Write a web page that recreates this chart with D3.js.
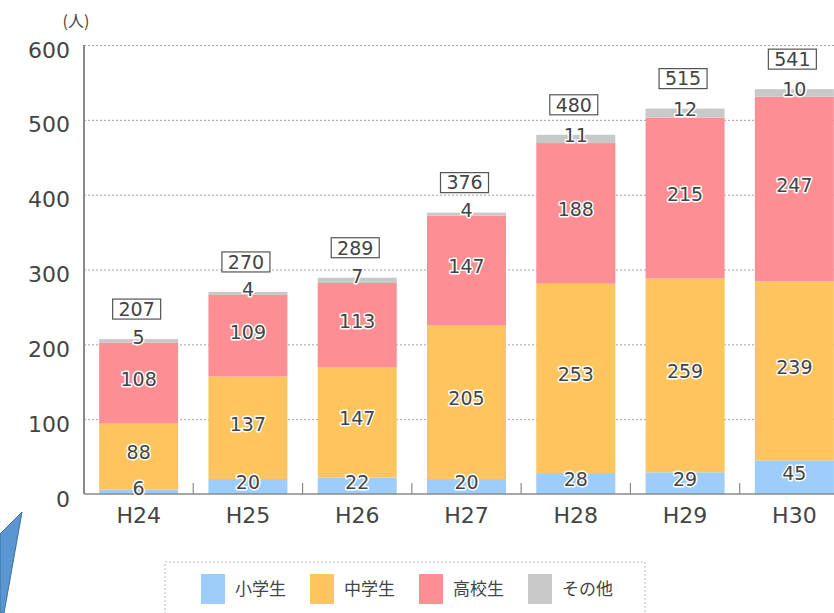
<!DOCTYPE html>
<html>
<head>
<meta charset="utf-8">
<script src="https://cdn.jsdelivr.net/npm/d3@7"></script>
<style>
  html, body { margin: 0; padding: 0; background: #fff; overflow: hidden; }
  svg { display: block; font-family: "DejaVu Sans", "Noto Sans CJK JP", sans-serif; }
</style>
</head>
<body>
<div id="chart"></div>
<script>
// 年度
const years = ["H24", "H25", "H26", "H27", "H28", "H29", "H30"];
// 区分
const groups = ["小学生", "中学生", "高校生", "その他"];
const elementary = [6, 20, 22, 20, 28, 29, 45];
const juniorHigh = [88, 137, 147, 205, 253, 259, 239];
const highSchool = [108, 109, 113, 147, 188, 215, 247];
const others = [5, 4, 7, 4, 11, 12, 10];
const totals = [207, 270, 289, 376, 480, 515, 541];
const yTicks = [0, 100, 200, 300, 400, 500, 600];
const colors = ["#9ccdfb", "#fec55e", "#fd8f94", "#c8c8c8"];

const W = 834, H = 613;
const margin = { top: 45, right: -15, bottom: 119, left: 84 };
const w = W - margin.left - margin.right, h = H - margin.top - margin.bottom;
const FONT = "'DejaVu Sans', 'Noto Sans CJK JP', sans-serif";

const rows = years.map((yr, i) => ({
  year: yr,
  "小学生": elementary[i], "中学生": juniorHigh[i], "高校生": highSchool[i], "その他": others[i],
  total: totals[i],
}));
const stacked = d3.stack().keys(groups)(rows);

const svg = d3.select("#chart").append("svg")
  .attr("width", W).attr("height", H).attr("viewBox", `0 0 ${W} ${H}`);
const g = svg.append("g").attr("transform", `translate(${margin.left},${margin.top})`);

const x = d3.scaleBand().domain(years).range([0, w]).paddingInner(0.277).paddingOuter(0.1385);
const y = d3.scaleLinear().domain([0, 600]).range([h, 0]);
const color = d3.scaleOrdinal().domain(groups).range(colors);

// gridlines (dotted)
g.append("g")
  .call(d3.axisLeft(y).tickValues(yTicks.slice(1)).tickSize(-(W - margin.left)).tickFormat(""))
  .call(s => s.select(".domain").remove())
  .selectAll("line").attr("stroke", "#a0a0a0").attr("stroke-dasharray", "2,2");

// y tick labels (sit a little below their gridline, as in the source)
g.append("g")
  .call(d3.axisLeft(y).tickValues(yTicks).tickSize(0).tickPadding(14))
  .call(s => s.select(".domain").remove())
  .selectAll("text").attr("font-size", 22).attr("fill", "#444").attr("font-family", FONT)
  .attr("dy", "0.55em");

// unit
svg.append("text").attr("x", 76).attr("y", 27).attr("text-anchor", "middle")
  .attr("font-size", 16).attr("fill", "#444").attr("font-family", "'Noto Sans CJK JP', sans-serif")
  .text("(人)");

// bars
const layer = g.selectAll("g.layer").data(stacked).join("g").attr("class", "layer")
  .attr("fill", d => color(d.key));
layer.selectAll("rect").data(d => d).join("rect")
  .attr("x", d => x(d.data.year)).attr("width", x.bandwidth())
  .attr("y", d => y(d[1])).attr("height", d => y(d[0]) - y(d[1]));

// x axis baseline and boundary ticks
const gap = (x.step() - x.bandwidth()) / 2;
g.append("line").attr("x1", 0).attr("x2", W).attr("y1", h).attr("y2", h)
  .attr("stroke", "#8a8a8a").attr("stroke-width", 1.5);
g.selectAll("line.btick").data(years.slice(1)).join("line").attr("class", "btick")
  .attr("x1", d => x(d) - gap).attr("x2", d => x(d) - gap)
  .attr("y1", h).attr("y2", h - 11).attr("stroke", "#8a8a8a").attr("stroke-width", 1.2);
g.append("line").attr("x1", 0).attr("x2", 0).attr("y1", 0).attr("y2", h)
  .attr("stroke", "#8a8a8a").attr("stroke-width", 2);

// x labels
g.append("g").attr("transform", `translate(0,${h})`)
  .call(d3.axisBottom(x).tickSize(0).tickPadding(13))
  .call(s => s.select(".domain").remove())
  .selectAll("text").attr("font-size", 22).attr("fill", "#444").attr("font-family", FONT);

// segment labels with white halo
g.selectAll("g.lab").data(stacked).join("g").attr("class", "lab")
  .selectAll("text").data(d => d).join("text")
  .attr("x", d => x(d.data.year) + x.bandwidth() / 2)
  .attr("y", d => (y(d[0]) + y(d[1])) / 2 - 4)
  .attr("dy", "0.36em").attr("text-anchor", "middle")
  .attr("font-size", 19).attr("fill", "#444")
  .attr("stroke", "#fff").attr("stroke-width", 3).attr("paint-order", "stroke")
  .attr("stroke-linejoin", "round")
  .text(d => d[1] - d[0]);

// total boxes
const tot = g.selectAll("g.tot").data(rows).join("g").attr("class", "tot")
  .attr("transform", d => `translate(${x(d.year) + x.bandwidth() / 2 - 2},${y(d.total) - 30})`);
tot.append("rect").attr("x", -24).attr("y", -10).attr("width", 48).attr("height", 20)
  .attr("fill", "#fff").attr("stroke", "#555").attr("stroke-width", 1.2);
tot.append("text").attr("text-anchor", "middle").attr("dy", "0.36em")
  .attr("font-size", 19).attr("fill", "#444").text(d => d.total);

// legend
const lg = svg.append("g");
lg.append("rect").attr("x", 165).attr("y", 562).attr("width", 480).attr("height", 60)
  .attr("fill", "#fff").attr("stroke", "#b8b8b8").attr("stroke-dasharray", "2,2");
const item = lg.selectAll("g.item").data(groups).join("g").attr("class", "item")
  .attr("transform", (d, i) => `translate(${201 + i * 109},574)`);
item.append("rect").attr("width", 24).attr("height", 30).attr("fill", d => color(d));
item.append("text").attr("x", 34).attr("y", 15).attr("dy", "0.35em")
  .attr("font-size", 17).attr("fill", "#444").attr("font-family", "'Noto Sans CJK JP', sans-serif")
  .text(d => d);

// blue callout shape at lower left
svg.append("path").attr("d", "M22,512 L0,534 L0,613 L4,613 Z")
  .attr("fill", "#5a96d2").attr("stroke", "#3d6f9e").attr("stroke-width", 1);
</script>
</body>
</html>
